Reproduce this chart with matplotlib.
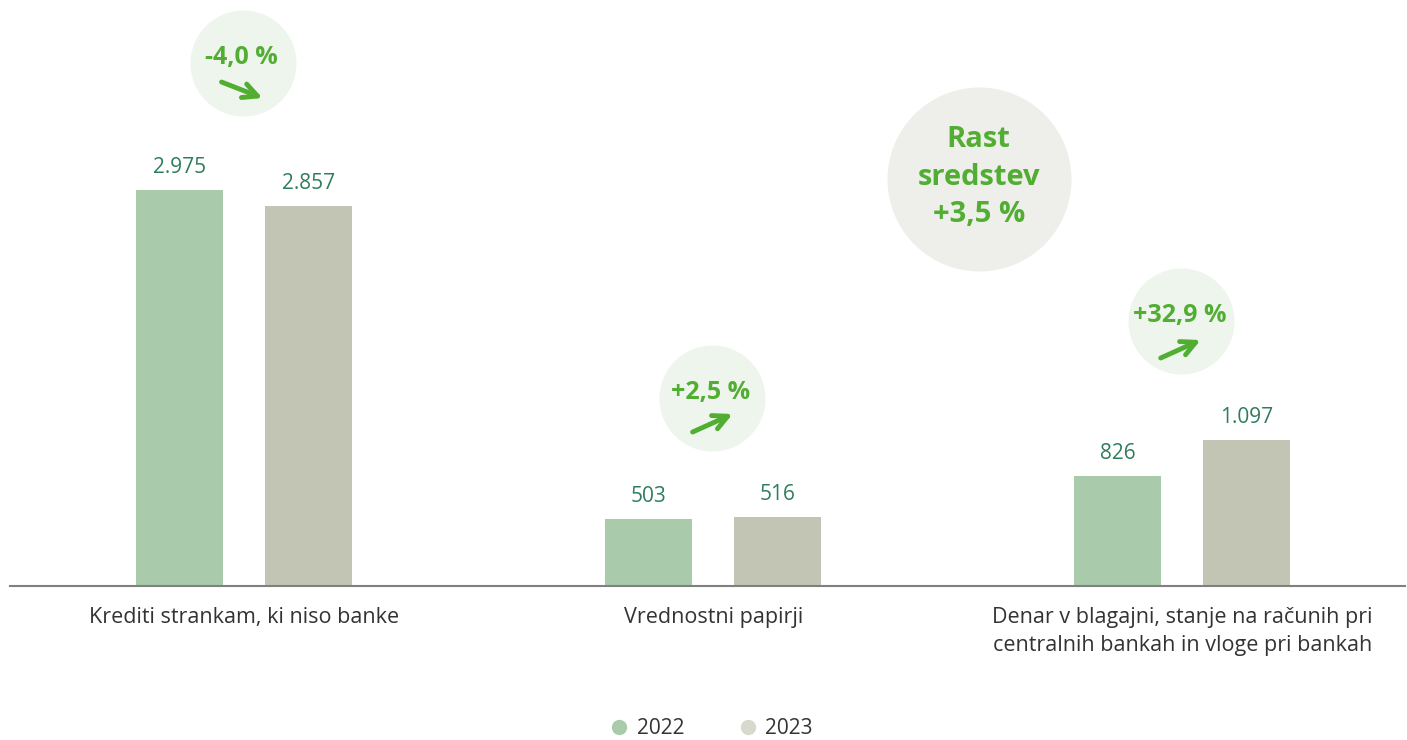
import matplotlib.pyplot as plt
from matplotlib.lines import Line2D
import numpy as np

categories = ['Krediti strankam, ki niso banke',
              'Vrednostni papirji',
              'Denar v blagajni, stanje na računih pri\ncentralnih bankah in vloge pri bankah']
years = ['2022', '2023']
values_2022 = [2975, 503, 826]
values_2023 = [2857, 516, 1097]
changes = ['-4,0 %', '+2,5 %', '+32,9 %']
total_change = 'Rast\nsredstev\n+3,5 %'

c2022 = '#a9cbab'
c2023 = '#c2c5b3'
label_col = '#2f7d5c'
green = '#52ae32'
bubble_bg = '#eef5ec'
big_bg = '#eeeeea'

plt.rcParams['font.family'] = ['Open Sans', 'DejaVu Sans']

fig = plt.figure(figsize=(14.07, 7.4), dpi=100)
ax = fig.add_axes([10 / 1407, 1 - 585.7 / 740, 1395 / 1407, 585.7 / 740])

x = np.arange(len(categories))
w = 0.1855
off = 0.1375
ax.bar(x - off, values_2022, w, color=c2022)
ax.bar(x + off, values_2023, w, color=c2023)

def fmt(v):
    return '{:,}'.format(v).replace(',', '.')

for xi, v in zip(x - off, values_2022):
    ax.text(xi, v + 90, fmt(v), ha='center', va='bottom', fontsize=15,
            color=label_col)
for xi, v in zip(x + off, values_2023):
    ax.text(xi, v + 90, fmt(v), ha='center', va='bottom', fontsize=15,
            color=label_col)

ax.set_xlim(-0.499, 2.475)
ax.set_ylim(0, 4404)
for s in ['top', 'left', 'right']:
    ax.spines[s].set_visible(False)
ax.spines['bottom'].set_color('#808080')
ax.spines['bottom'].set_linewidth(1.5)
ax.set_yticks([])
ax.set_xticks(x)
ax.set_xticklabels(categories, fontsize=15.5, color='#333333', linespacing=1.45)
ax.tick_params(axis='x', length=0, pad=15)

# change bubbles (pixel positions converted to data units)
def px_to_data(px, py):
    return (px - 10) / 469 - 0.5, (585.7 - py) / 0.133

bubbles = [(243, 63), (712, 398), (1181, 321)]
arrows = [((222, 82), (263, 98)), ((693, 432), (733, 414)),
          ((1161, 358), (1201, 340))]
for (bx, by), txt, (a0, a1) in zip(bubbles, changes, arrows):
    cx, cy = px_to_data(bx, by)
    ax.scatter([cx], [cy], s=(106 * 0.72) ** 2, color=bubble_bg, zorder=3,
               linewidths=0)
    tx, ty = px_to_data(bx - 1, by - 6)
    ax.text(tx, ty, txt, ha='center', va='center', fontsize=18,
            fontweight='bold', color=green, zorder=4)
    ax.annotate('', xy=px_to_data(*a1), xytext=px_to_data(*a0),
                arrowprops=dict(arrowstyle='->', color=green, lw=3.5,
                                mutation_scale=26, shrinkA=0, shrinkB=0),
                zorder=4)

cx, cy = px_to_data(979, 179)
ax.scatter([cx], [cy], s=(184 * 0.72) ** 2, color=big_bg, zorder=3,
           linewidths=0)
ax.text(cx, cy + 15, total_change, ha='center', va='center', fontsize=21,
        fontweight='bold', color=green, linespacing=1.4, zorder=4)

handles = [Line2D([], [], marker='o', ls='', markersize=10, color=c2022),
           Line2D([], [], marker='o', ls='', markersize=10, color='#d6d9cc')]
fig.legend(handles, years, loc='center', bbox_to_anchor=(708 / 1407, 1 - 729 / 740),
           ncol=2, frameon=False, fontsize=15, handletextpad=0.1,
           handlelength=1.5, columnspacing=2.3, labelcolor='#333333')

fig.savefig('out.png', dpi=100)
